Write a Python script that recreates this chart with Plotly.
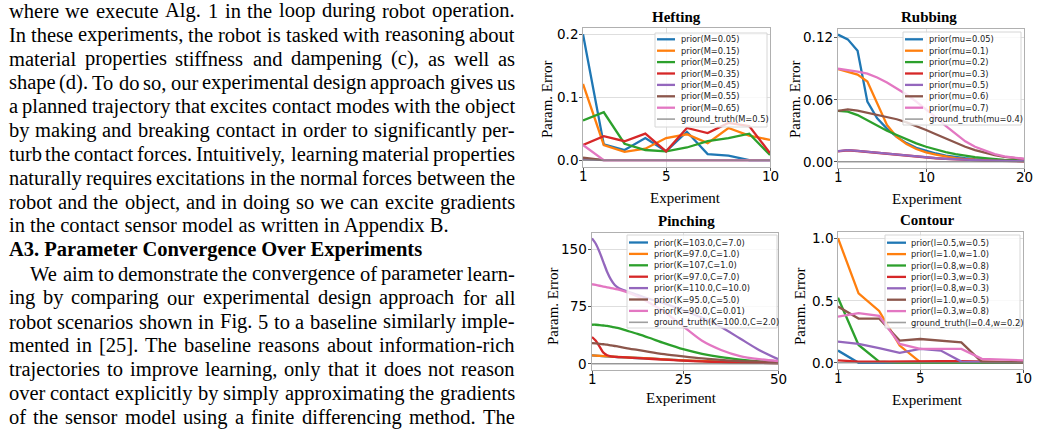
import plotly.graph_objects as go

W, H = 1038, 431

# ---------------- page text ----------------
text_lines = [
    "where we execute Alg. 1 in the loop during robot operation.",
    "In these experiments, the robot is tasked with reasoning about",
    "material properties stiffness and dampening (c), as well as",
    "shape (d). To do so, our experimental design approach gives us",
    "a planned trajectory that excites contact modes with the object",
    "by making and breaking contact in order to significantly per-",
    "turb the contact forces. Intuitively, learning material properties",
    "naturally requires excitations in the normal forces between the",
    "robot and the object, and in doing so we can excite gradients",
    "in the contact sensor model as written in Appendix B.",
    "A3. Parameter Convergence Over Experiments",
    "We aim to demonstrate the convergence of parameter learn-",
    "ing by comparing our experimental design approach for all",
    "robot scenarios shown in Fig. 5 to a baseline similarly imple-",
    "mented in [25]. The baseline reasons about information-rich",
    "trajectories to improve learning, only that it does not reason",
    "over contact explicitly by simply approximating the gradients",
    "of the sensor model using a finite differencing method. The",
]
line_kind = ["j"] * 9 + ["l", "b", "ji"] + ["j"] * 6

# ---------------- Hefting ----------------
heft_x = [1, 2, 3, 4, 5, 6, 7, 8, 9, 10]
heft_names = ["prior(M=0.05)", "prior(M=0.15)", "prior(M=0.25)", "prior(M=0.35)",
              "prior(M=0.45)", "prior(M=0.55)", "prior(M=0.65)", "ground_truth(M=0.5)"]
heft_m005 = [0.200, 0.025, 0.016, 0.035, 0.014, 0.045, 0.0095, 0.007, 0.0, 0.0]
heft_m015 = [0.121, 0.024, 0.013, 0.018, 0.035, 0.041, 0.027, 0.051, 0.039, 0.032]
heft_m025 = [0.063, 0.076, 0.026, 0.016, 0.014, 0.020, 0.030, 0.035, 0.042, 0.008]
heft_m035 = [0.024, 0.038, 0.030, 0.042, 0.014, 0.051, 0.043, 0.059, 0.054, 0.011]
heft_m045 = [0.002, 0.0, 0.0, 0.0, 0.0, 0.0, 0.0, 0.0, 0.0, 0.0]
heft_m055 = [0.004, 0.0, 0.0, 0.0, 0.0, 0.0, 0.0, 0.0, 0.0, 0.0]
heft_m065 = [0.024, 0.0, 0.0, 0.0, 0.0, 0.0, 0.0, 0.0, 0.0, 0.0]
heft_gt = [0.0] * 10
heft_xticks = [1, 5, 10]
heft_xticktext = ["1", "5", "10"]
heft_yticks = [0.0, 0.1, 0.2]
heft_yticktext = ["0.0", "0.1", "0.2"]

# ---------------- Rubbing ----------------
rub_x = list(range(1, 21))
rub_names = ["prior(mu=0.05)", "prior(mu=0.1)", "prior(mu=0.2)", "prior(mu=0.3)",
             "prior(mu=0.5)", "prior(mu=0.6)", "prior(mu=0.7)", "ground_truth(mu=0.4)"]
rub_mu005 = [0.1226, 0.118, 0.107, 0.058, 0.042, 0.032, 0.024, 0.018, 0.0135, 0.0106,
             0.008, 0.006, 0.0045, 0.0035, 0.0026, 0.002, 0.0016, 0.0013, 0.001, 0.0008]
rub_mu01 = [0.0894, 0.087, 0.084, 0.0774, 0.0565, 0.0355, 0.024, 0.017, 0.0123, 0.009,
            0.0068, 0.0048, 0.0035, 0.0026, 0.002, 0.0015, 0.0012, 0.001, 0.0008, 0.0007]
rub_mu02 = [0.049, 0.0484, 0.045, 0.040, 0.0345, 0.030, 0.0258, 0.0216, 0.0177, 0.0145,
            0.0116, 0.0094, 0.0074, 0.0058, 0.0045, 0.0035, 0.0026, 0.0019, 0.0016, 0.0013]
rub_mu03 = [0.0101, 0.0111, 0.0104, 0.0095, 0.0085, 0.0075, 0.0066, 0.0056, 0.0047, 0.0041,
            0.0034, 0.0028, 0.0022, 0.0018, 0.0015, 0.0012, 0.0009, 0.0007, 0.0006, 0.0005]
rub_mu05 = [0.0103, 0.0113, 0.0106, 0.0097, 0.0087, 0.0077, 0.0068, 0.0058, 0.0048, 0.0042,
            0.0035, 0.0029, 0.0023, 0.0019, 0.0016, 0.0013, 0.001, 0.0008, 0.0007, 0.0006]
rub_mu06 = [0.049, 0.0506, 0.0494, 0.0474, 0.0455, 0.0435, 0.041, 0.038, 0.0345, 0.0306,
            0.0265, 0.0223, 0.0184, 0.0145, 0.0113, 0.0087, 0.0065, 0.0048, 0.0035, 0.0026]
rub_mu07 = [0.0897, 0.0887, 0.087, 0.085, 0.0813, 0.0765, 0.071, 0.0648, 0.058, 0.0506,
            0.0429, 0.0345, 0.0268, 0.0197, 0.0145, 0.0106, 0.0074, 0.0052, 0.0039, 0.0029]
rub_gt = [0.0] * 20
rub_xticks = [1, 10, 20]
rub_xticktext = ["1", "10", "20"]
rub_yticks = [0.0, 0.06, 0.12]
rub_yticktext = ["0.00", "0.06", "0.12"]

# ---------------- Pinching ----------------
pinch_x = [1, 2, 3, 4, 5, 6, 7, 8, 10, 13, 16, 20, 25, 30, 35, 40, 45, 50]
pinch_names = ["prior(K=103.0,C=7.0)", "prior(K=97.0,C=1.0)", "prior(K=107,C=1.0)",
               "prior(K=97.0,C=7.0)", "prior(K=110.0,C=10.0)", "prior(K=95.0,C=5.0)",
               "prior(K=90.0,C=0.01)", "ground_truth(K=100.0,C=2.0)"]
pinch_k103 = [10.8, 10.5, 10.2, 9.9, 9.6, 9.3, 9.0, 8.7, 8.2, 7.5, 6.8, 5.7, 4.3, 3.4, 2.5, 1.7, 1.2, 0.8]
pinch_k97c1 = [10.9, 10.6, 10.3, 10.0, 9.7, 9.4, 9.1, 8.8, 8.3, 7.6, 6.9, 5.8, 4.4, 3.5, 2.6, 1.8, 1.3, 0.9]
pinch_k107 = [51, 51, 50.5, 50, 49.5, 48.5, 47.5, 46.5, 43.5, 39, 34, 27, 19, 13, 8.5, 5.5, 3.2, 1.8]
pinch_k97c7 = [35, 30, 22.5, 14.5, 11, 9.6, 9.0, 8.7, 8.3, 7.3, 6.5, 5.3, 4.0, 3.0, 2.2, 1.7, 1.2, 0.9]
pinch_k110 = [164, 157, 146, 133, 120, 110, 103, 99, 95, 90, 85, 79, 70, 60, 48, 33, 18, 6]
pinch_k95 = [27, 26.5, 26, 25.5, 25, 24, 23.2, 22.5, 20.5, 18, 15.5, 12.5, 9.6, 7, 5, 3.5, 2.8, 2.2]
pinch_k90 = [104, 103, 102, 101, 100, 99, 98, 97, 94, 88, 80, 68, 49, 30, 18, 10, 6, 3.5]
pinch_gt = [0.0] * 18
pinch_xticks = [1, 25, 50]
pinch_xticktext = ["1", "25", "50"]
pinch_yticks = [0, 75, 150]
pinch_yticktext = ["0", "75", "150"]

# ---------------- Contour ----------------
cont_x = [1, 2, 3, 4, 5, 6, 7, 8, 9, 10]
cont_names = ["prior(l=0.5,w=0.5)", "prior(l=1.0,w=1.0)", "prior(l=0.8,w=0.8)",
              "prior(l=0.3,w=0.3)", "prior(l=0.8,w=0.3)", "prior(l=1.0,w=0.5)",
              "prior(l=0.3,w=0.8)", "ground_truth(l=0.4,w=0.2)"]
cont_l05w05 = [0.098, 0.0, 0.0, 0.0, 0.0, 0.0, 0.0, 0.0, 0.0, 0.0]
cont_l10w10 = [1.0, 0.557, 0.416, 0.138, 0.005, 0.0, 0.0, 0.0, 0.0, 0.0]
cont_l08w08 = [0.522, 0.143, 0.01, 0.0, 0.0, 0.0, 0.0, 0.0, 0.0, 0.0]
cont_l03w03 = [0.019, 0.01, 0.01, 0.012, 0.016, 0.014, 0.013, 0.012, 0.005, 0.004]
cont_l08w03 = [0.17, 0.151, 0.117, 0.08, 0.111, 0.098, 0.01, 0.005, 0.005, 0.005]
cont_l10w05 = [0.451, 0.355, 0.355, 0.178, 0.191, 0.178, 0.164, 0.005, 0.005, 0.005]
cont_l03w08 = [0.371, 0.398, 0.377, 0.151, 0.111, 0.111, 0.111, 0.032, 0.027, 0.019]
cont_gt = [0.0] * 10
cont_xticks = [1, 5, 10]
cont_xticktext = ["1", "5", "10"]
cont_yticks = [0.0, 0.5, 1.0]
cont_yticktext = ["0.0", "0.5", "1.0"]

colors = ["#1f77b4", "#ff7f0e", "#2ca02c", "#d62728", "#9467bd", "#8c564b", "#e377c2",
          "rgba(127,127,127,0.75)"]

# ---------------- helpers ----------------
def px(x):
    return x / W


def py(y):
    return 1 - y / H


SERIF = "Liberation Serif, Times New Roman, serif"
SANS = "DejaVu Sans, sans-serif"

fig = go.Figure()

panels = [
    dict(key="", x=heft_x, series=[heft_m005, heft_m015, heft_m025, heft_m035, heft_m045,
                                   heft_m055, heft_m065, heft_gt], names=heft_names,
         dom_x=(583, 770), dom_y=(28, 167), xr=[1, 10], yr=[-0.011, 0.21],
         xt=heft_xticks, xtt=heft_xticktext, yt=heft_yticks, ytt=heft_yticktext,
         shape="linear", title="Hefting", tpos=(676, 17), xl=(685, 198), yl=(547, 100),
         leg=dict(box=(655, 33, 767, 127), lx=(657, 675), tx=680, y0=39.3)),
    dict(key="2", x=rub_x, series=[rub_mu005, rub_mu01, rub_mu02, rub_mu03, rub_mu05,
                                   rub_mu06, rub_mu07, rub_gt], names=rub_names,
         dom_x=(838, 1024), dom_y=(29, 168), xr=[1, 20], yr=[-0.006, 0.128],
         xt=rub_xticks, xtt=rub_xticktext, yt=rub_yticks, ytt=rub_yticktext,
         shape="linear", title="Rubbing", tpos=(929, 17), xl=(927, 199), yl=(795, 100),
         leg=dict(box=(903, 32, 1021, 125), lx=(905, 923), tx=928, y0=39.3)),
    dict(key="3", x=pinch_x, series=[pinch_k103, pinch_k97c1, pinch_k107, pinch_k97c7,
                                     pinch_k110, pinch_k95, pinch_k90, pinch_gt], names=pinch_names,
         dom_x=(592, 778), dom_y=(233, 370), xr=[1, 50], yr=[-8.2, 171],
         xt=pinch_xticks, xtt=pinch_xticktext, yt=pinch_yticks, ytt=pinch_yticktext,
         shape="spline", title="Pinching", tpos=(686, 221), xl=(681, 398), yl=(553, 307),
         leg=dict(box=(627, 235, 777, 328), lx=(629, 648), tx=653, y0=242.5)),
    dict(key="4", x=cont_x, series=[cont_l05w05, cont_l10w10, cont_l08w08, cont_l03w03,
                                    cont_l08w03, cont_l10w05, cont_l03w08, cont_gt], names=cont_names,
         dom_x=(838, 1023), dom_y=(232, 369), xr=[1, 10], yr=[-0.05, 1.05],
         xt=cont_xticks, xtt=cont_xticktext, yt=cont_yticks, ytt=cont_yticktext,
         shape="linear", title="Contour", tpos=(927, 220), xl=(927, 400), yl=(800, 307),
         leg=dict(box=(885, 235, 1020, 328), lx=(887, 906), tx=910, y0=242.7)),
]

shapes = []
annotations = []
layout_axes = {}
TICKFONT = dict(family=SANS, size=13.5, color="black")

for p in panels:
    k = p["key"]
    for i, (ys, nm) in enumerate(zip(p["series"], p["names"])):
        is_gt = i == 7
        fig.add_trace(go.Scatter(
            x=p["x"], y=ys, name=nm, mode="lines", showlegend=False,
            xaxis="x" + k, yaxis="y" + k,
            line=dict(color=colors[i], width=1.6 if is_gt else 2.3,
                      shape=p["shape"], smoothing=0.8 if p["shape"] == "spline" else None),
            hoverinfo="skip"))
    common = dict(showgrid=True, gridcolor="#dedede", gridwidth=1, showline=True,
                  linecolor="#b0b0b0", linewidth=1, mirror=True, ticks="outside",
                  ticklen=3, tickcolor="#555555", zeroline=False, fixedrange=True,
                  showticklabels=False)
    layout_axes["xaxis" + k] = dict(common, domain=[px(p["dom_x"][0]), px(p["dom_x"][1])],
                                    range=p["xr"], tickvals=p["xt"], anchor="y" + k)
    layout_axes["yaxis" + k] = dict(common, domain=[py(p["dom_y"][1]), py(p["dom_y"][0])],
                                    range=p["yr"], tickvals=p["yt"], anchor="x" + k)
    # tick labels placed through the axes' own data coordinates
    for v, t in zip(p["xt"], p["xtt"]):
        annotations.append(dict(text=t, x=v, xref="x" + k, y=py(p["dom_y"][1] + 8.5), yref="paper",
                                showarrow=False, xanchor="center", yanchor="middle", font=TICKFONT))
    for v, t in zip(p["yt"], p["ytt"]):
        annotations.append(dict(text=t, y=v, yref="y" + k, x=px(p["dom_x"][0] - 3), xref="paper",
                                showarrow=False, xanchor="right", yanchor="middle", font=TICKFONT))
    # title and labels
    annotations.append(dict(text="<b>" + p["title"] + "</b>", x=px(p["tpos"][0]), y=py(p["tpos"][1]),
                            xref="paper", yref="paper", showarrow=False, xanchor="center",
                            yanchor="middle", font=dict(family=SERIF, size=15, color="black")))
    annotations.append(dict(text="Experiment", x=px(p["xl"][0]), y=py(p["xl"][1]),
                            xref="paper", yref="paper", showarrow=False, xanchor="center",
                            yanchor="middle", font=dict(family=SERIF, size=15, color="black")))
    annotations.append(dict(text="Param. Error", x=px(p["yl"][0]), y=py(p["yl"][1]), textangle=-90,
                            xref="paper", yref="paper", showarrow=False, xanchor="center",
                            yanchor="middle", font=dict(family=SERIF, size=15, color="black")))
    # legend (drawn manually: compact rows)
    lg = p["leg"]
    bx0, by0, bx1, by1 = lg["box"]
    shapes.append(dict(type="rect", xref="paper", yref="paper", layer="above",
                       x0=px(bx0), x1=px(bx1), y0=py(by1), y1=py(by0),
                       fillcolor="rgba(255,255,255,0.8)", line=dict(color="#d6d6d6", width=1)))
    for i, nm in enumerate(p["names"]):
        yy = lg["y0"] + i * 11.4
        shapes.append(dict(type="line", xref="paper", yref="paper", layer="above",
                           x0=px(lg["lx"][0]), x1=px(lg["lx"][1]), y0=py(yy), y1=py(yy),
                           line=dict(color=colors[i], width=1.6 if i == 7 else 2.3)))
        annotations.append(dict(text=nm, x=px(lg["tx"] - 1), y=py(yy), xref="paper", yref="paper",
                                showarrow=False, xanchor="left", yanchor="middle",
                                font=dict(family=SANS, size=8.3, color="#222222")))

# ---------------- justified page text ----------------
TR = {}
for ch, w in zip("abcdefghijklmnopqrstuvwxyz",
                 [444, 500, 444, 500, 444, 333, 500, 500, 278, 278, 500, 278, 778, 500, 500, 500,
                  500, 333, 389, 278, 500, 500, 722, 500, 500, 444]):
    TR[ch] = w
for ch, w in zip("ABCDEFGHIJKLMNOPQRSTUVWXYZ",
                 [722, 667, 667, 722, 611, 556, 722, 722, 333, 389, 722, 611, 889, 722, 722, 556,
                  722, 667, 556, 611, 722, 722, 944, 722, 722, 611]):
    TR[ch] = w
for ch in "0123456789":
    TR[ch] = 500
TR.update({".": 250, ",": 250, "(": 333, ")": 333, "[": 333, "]": 333, "-": 333, " ": 250})

FS = 20.5
LEFT, RIGHT = 7.5, 514.0
BASE0, LSTEP = 17.8, 23.9


def wwidth(word):
    return sum(TR.get(c, 500) for c in word) * FS / 1000


for i, (line, kind) in enumerate(zip(text_lines, line_kind)):
    base = BASE0 + i * LSTEP
    ymid = base - 0.3375 * FS
    if kind in ("l", "b"):
        txt = "<b>" + line + "</b>" if kind == "b" else line
        annotations.append(dict(text=txt, x=px(LEFT - 1), y=py(ymid), xref="paper", yref="paper",
                                showarrow=False, xanchor="left", yanchor="middle",
                                font=dict(family=SERIF, size=FS, color="black")))
        continue
    start = 29.0 if kind == "ji" else LEFT
    words = line.split(" ")
    widths = [wwidth(w) for w in words]
    gap = (RIGHT - start - sum(widths)) / (len(words) - 1)
    xcur = start
    for w, wd in zip(words, widths):
        annotations.append(dict(text=w, x=px(xcur - 1), y=py(ymid), xref="paper", yref="paper",
                                showarrow=False, xanchor="left", yanchor="middle",
                                font=dict(family=SERIF, size=FS, color="black")))
        xcur += wd + gap

fig.update_layout(
    width=W, height=H, margin=dict(l=0, r=0, t=0, b=0),
    paper_bgcolor="white", plot_bgcolor="white", showlegend=False,
    shapes=shapes, annotations=annotations, **layout_axes)

fig.write_html("out.html", config={"displayModeBar": False})
